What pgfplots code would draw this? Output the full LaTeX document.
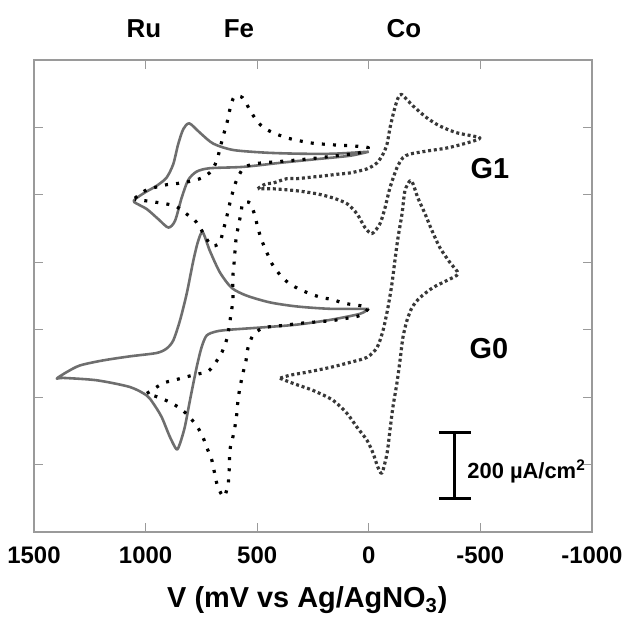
\documentclass[border=0pt]{standalone}
\usepackage{fontspec}
\setmainfont{Liberation Sans}
\usepackage{pgfplots}
\pgfplotsset{compat=1.18}
\definecolor{ruline}{HTML}{6E6E6E}
\definecolor{coline}{HTML}{383838}
\definecolor{frame}{HTML}{9A9A9A}

\begin{document}
\begin{tikzpicture}[font=\bfseries]
\begin{axis}[
  scale only axis, width=279bp, height=236bp,
  x dir=reverse, xmin=-1000, xmax=1500, ymin=0, ymax=1400,
  xtick={-1000,-500,0,500,1000,1500},
  xticklabels={-1000,-500,0,500,1000,1500},
  ytick={200,400,600,800,1000,1200}, yticklabels={},
  tick align=inside, tick pos=both, major tick length=4.5bp,
  axis line style={frame, line width=0.8bp}, tick style={frame, line width=0.6bp},
  xticklabel style={font=\fontsize{12}{14}\bfseries\selectfont, yshift=-4bp},
  xlabel={V (mV vs Ag/AgNO\textsubscript{3})},
  xlabel style={font=\fontsize{14.5}{17}\bfseries\selectfont,
    at={(axis description cs:0.49,-0.145)}, anchor=center},
  every axis plot/.append style={smooth, tension=0.45, line join=round},
  clip=false,
]
% G1 Ru
\addplot[ruline, line width=1.3pt] coordinates {
(0,1128) (159,1122) (308,1122) (458,1125) (607,1133) (697,1152) (756,1184)
(804,1212) (831,1195) (854,1150) (876,1091) (906,1051) (950,1027) (1003,1007)
(1047,987) (1050,978) (995,958) (943,928) (898,903) (868,923) (838,992)
(809,1044) (771,1069) (712,1079) (562,1083) (383,1096) (233,1106) (84,1116) (0,1128)};
% G0 Ru
\addplot[ruline, line width=1.3pt] coordinates {
(0,662) (174,662) (323,669) (443,681) (547,701) (614,724) (667,770) (712,834)
(744,889) (764,864) (786,805) (816,706) (846,627) (876,568) (906,544) (950,531)
(1070,521) (1190,509) (1294,494) (1354,474) (1398,455) (1369,457) (1219,450)
(1070,430) (995,405) (965,381) (928,341) (891,282) (861,245) (846,262)
(824,312) (801,391) (771,489) (749,548) (726,583) (682,595) (622,600)
(473,607) (323,615) (174,629) (40,647) (0,662)};
% G1 Fe
\addplot[black, line width=1.6pt, dash pattern=on 1.5pt off 4.1pt] coordinates {
(1048,990) (1003,1012) (958,1022) (906,1030) (854,1034) (801,1040) (749,1050)
(704,1071) (679,1106) (664,1145) (649,1182) (634,1217) (622,1254) (603,1291)
(565,1288) (529,1247) (495,1214) (461,1195) (413,1180) (361,1168) (308,1160)
(249,1153) (152,1148) (70,1145) (2,1140) (40,1125) (144,1116) (249,1108)
(361,1101) (473,1095) (520,1091) (562,1079) (592,1044) (610,1007) (625,968)
(637,933) (652,894) (667,859) (689,849) (712,854) (771,918) (816,943)
(861,965) (906,973) (943,977) (995,982) (1048,986)};
% G0 Fe
\addplot[black, line width=1.6pt, dash pattern=on 1.5pt off 4.1pt] coordinates {
(994,411) (922,441) (873,450) (824,459) (770,468) (721,476) (689,500) (658,533)
(635,574) (626,607) (617,648) (609,687) (609,755) (604,793) (600,828) (595,867)
(586,902) (573,944) (564,976) (532,976) (510,938) (497,902) (479,864) (456,828)
(434,796) (398,763) (362,740) (317,722) (264,707) (210,695) (165,690) (107,678)
(4,666) (40,642) (107,633) (165,627) (219,624) (272,621) (322,618) (376,613)
(429,610) (479,604) (519,583) (541,547) (550,509) (564,470) (577,429) (586,391)
(591,352) (600,311) (609,281) (622,243) (626,175) (631,139) (649,104) (676,133)
(689,169) (703,213) (721,243) (743,281) (770,314) (810,346) (846,367) (891,385)
(945,400) (994,411)};
% G1 Co
\addplot[coline, line width=1.6pt, dash pattern=on 1.5pt off 1.4pt] coordinates {
(497,1018) (479,1027) (456,1033) (429,1035) (367,1048) (322,1048) (250,1053)
(205,1056) (129,1062) (84,1065) (8,1077) (-37,1095) (-64,1121) (-82,1151)
(-95,1198) (-113,1249) (-131,1287) (-147,1298) (-198,1264) (-261,1228)
(-319,1204) (-395,1184) (-498,1169) (-440,1154) (-350,1139) (-261,1130)
(-185,1121) (-153,1110) (-126,1080) (-95,1021) (-73,962) (-50,914) (-14,885)
(17,903) (53,944) (98,974) (161,991) (232,1003) (322,1012) (429,1018) (497,1018)};
% G0 Co
\addplot[coline, line width=1.6pt, dash pattern=on 1.5pt off 1.4pt] coordinates {
(398,456) (340,441) (250,420) (161,391) (98,352) (53,311) (8,272) (-19,234)
(-41,192) (-59,175) (-82,234) (-95,302) (-108,370) (-126,441) (-140,509)
(-153,577) (-171,627) (-194,666) (-229,695) (-288,725) (-350,746) (-400,766)
(-364,799) (-319,843) (-283,894) (-252,944) (-220,991) (-198,1033) (-185,1042)
(-162,1012) (-149,944) (-131,873) (-117,805) (-104,737) (-86,666) (-64,598)
(-37,547) (8,518) (84,503) (174,488) (277,474) (353,465) (398,456)};

% labels
\node[font=\fontsize{13}{15}\bfseries\selectfont] at (axis cs:1007,1494) {Ru};
\node[font=\fontsize{13}{15}\bfseries\selectfont] at (axis cs:582,1494) {Fe};
\node[font=\fontsize{13}{15}\bfseries\selectfont] at (axis cs:-157,1494) {Co};
\node[font=\fontsize{14.5}{17}\bfseries\selectfont] at (axis cs:-543,1077) {G1};
\node[font=\fontsize{14.5}{17}\bfseries\selectfont] at (axis cs:-538,545) {G0};

% scale bar
\draw[black, line width=1.5bp] (axis cs:-386,100) -- (axis cs:-386,295);
\draw[black, line width=1.5bp] (axis cs:-314,100) -- (axis cs:-458,100);
\draw[black, line width=1.5bp] (axis cs:-314,295) -- (axis cs:-458,295);
\node[anchor=west, inner sep=0pt, font=\fontsize{11}{13}\bfseries\selectfont]
  at (axis cs:-440,180) {200 µA/cm\textsuperscript{2}};

\coordinate (bl) at (rel axis cs:-0.0609,-0.1843);
\coordinate (tr) at (rel axis cs:1.0556,1.1271);
\end{axis}
\pgfresetboundingbox
\path[use as bounding box] (bl) rectangle (tr);
\end{tikzpicture}
\end{document}
